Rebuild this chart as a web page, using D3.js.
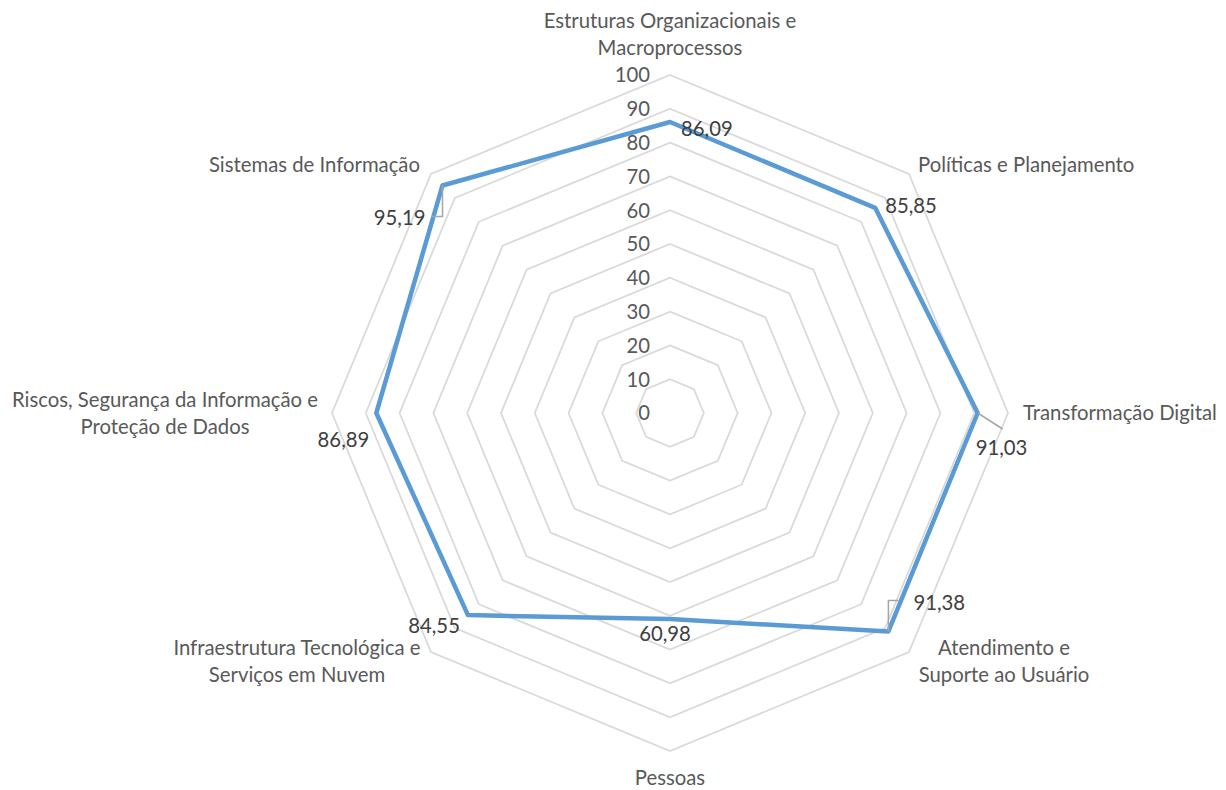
<!DOCTYPE html>
<html>
<head>
<meta charset="utf-8">
<script src="https://cdn.jsdelivr.net/npm/d3@7"></script>
<style>
  html, body { margin: 0; padding: 0; background: #ffffff; }
  svg { display: block; }
  text { font-family: Lato, "Open Sans", sans-serif; fill: #595959; }
</style>
</head>
<body>
<svg id="chart" width="1226" height="790"></svg>
<script>
// ---- data ----
const categories = [
  "Estruturas Organizacionais e\nMacroprocessos",
  "Políticas e Planejamento",
  "Transformação Digital",
  "Atendimento e\nSuporte ao Usuário",
  "Pessoas",
  "Infraestrutura Tecnológica e\nServiços em Nuvem",
  "Riscos, Segurança da Informação e\nProteção de Dados",
  "Sistemas de Informação"
];
const values = [86.09, 85.85, 91.03, 91.38, 60.98, 84.55, 86.89, 95.19];
const valueLabels = ["86,09", "85,85", "91,03", "91,38", "60,98", "84,55", "86,89", "95,19"];
const tickValues = [0, 10, 20, 30, 40, 50, 60, 70, 80, 90, 100];

// ---- layout ----
const cx = 670, cy = 413, R = 338;
const svg = d3.select("#chart");
const n = categories.length;
const r = d3.scaleLinear().domain([0, 100]).range([0, R]);
const angle = d3.scaleLinear().domain([0, n]).range([0, 2 * Math.PI]);

function pt(i, v) {
  const a = angle(i);
  return [cx + r(v) * Math.sin(a), cy - r(v) * Math.cos(a)];
}

// font size fit (Calibri-like width)
const probe = svg.append("text").attr("font-size", 20).text("Transformação Digital");
const fs = 20 * 194 / probe.node().getComputedTextLength();
probe.remove();

// grid
const g = svg.append("g");
tickValues.forEach(t => {
  const pts = d3.range(n).map(i => pt(i, t));
  g.append("path")
    .attr("d", d3.line()(pts) + "Z")
    .attr("fill", "none")
    .attr("stroke", "#d9d9d9")
    .attr("stroke-width", 1.75);
});

// tick labels
tickValues.forEach(t => {
  svg.append("text")
    .attr("x", cx - 20)
    .attr("y", cy - r(t))
    .attr("dy", "0.36em")
    .attr("text-anchor", "end")
    .attr("font-size", fs)
    .text(t);
});

// series
const seriesPts = values.map((v, i) => pt(i, v));
svg.append("path")
  .attr("d", d3.line()(seriesPts) + "Z")
  .attr("fill", "none")
  .attr("stroke", "#5b9bd5")
  .attr("stroke-width", 4.5)
  .attr("stroke-linejoin", "round");

// category labels: [anchor, dx, dy] relative to 100-vertex
const catPos = [
  ["middle", 0, -41],
  ["start", 9, -9],
  ["start", 15, 0],
  ["middle", 95, 9.5],
  ["middle", 0, 27],
  ["middle", -134, 9.5],
  ["middle", -167, 0],
  ["end", -11, -9]
];
const lh = 27;
categories.forEach((c, i) => {
  const [x, y] = pt(i, 100);
  const lines = c.split("\n");
  const t = svg.append("text")
    .attr("text-anchor", catPos[i][0])
    .attr("font-size", fs);
  lines.forEach((ln, k) => {
    t.append("tspan")
      .attr("x", x + catPos[i][1])
      .attr("y", y + catPos[i][2] + (k - (lines.length - 1) / 2) * lh)
      .attr("dy", "0.36em")
      .text(ln);
  });
});

// data labels: [anchor, dx, dy] relative to data point
const lblPos = [
  ["start", 11, 7],
  ["start", 10, -2],
  ["start", -2, 35],
  ["start", 25, -29],
  ["middle", -5, 15],
  ["end", -8, 11],
  ["end", -7, 27],
  ["end", -17, 32]
];
// leader lines for labels placed away from their points
const leaders = {
  2: p => [[p[0], p[1]], [p[0] + 25, p[1] + 16]],
  3: p => [[p[0], p[1]], [p[0], p[1] - 31], [p[0] + 10, p[1] - 31]],
  7: p => [[p[0], p[1]], [p[0], p[1] + 31], [p[0] - 11, p[1] + 31]]
};
Object.keys(leaders).forEach(k => {
  svg.append("path")
    .attr("d", d3.line()(leaders[k](seriesPts[k])))
    .attr("fill", "none")
    .attr("stroke", "#a6a6a6")
    .attr("stroke-width", 1.5);
});
valueLabels.forEach((l, i) => {
  const p = seriesPts[i];
  svg.append("text")
    .attr("x", p[0] + lblPos[i][1])
    .attr("y", p[1] + lblPos[i][2])
    .attr("dy", "0.36em")
    .attr("text-anchor", lblPos[i][0])
    .attr("font-size", fs)
    .style("fill", "#404040")
    .text(l);
});
</script>
</body>
</html>
